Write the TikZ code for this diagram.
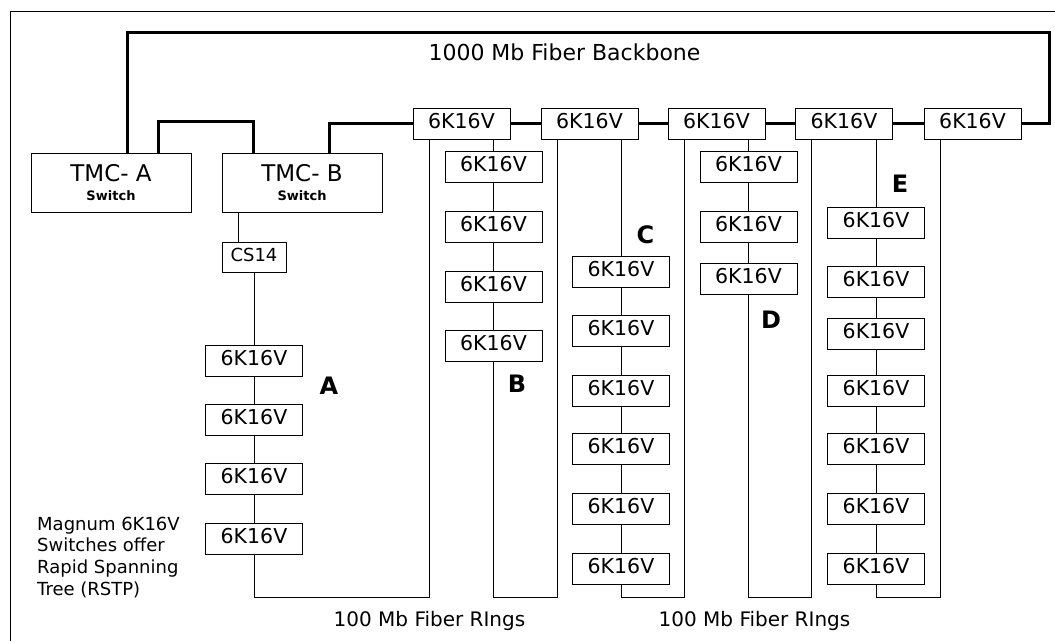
\documentclass[tikz,border=0pt]{standalone}
\usepackage{fontspec}
\setmainfont{DejaVu Sans}
\begin{document}
\begin{tikzpicture}[x=1pt,y=-1pt,
  sw/.style={draw, line width=1pt, minimum width=97pt, minimum height=31pt, inner sep=0pt, text height=15pt, text depth=6pt, font=\fontsize{20.5}{24}\selectfont},
  csbox/.style={draw, line width=1pt, minimum width=64pt, minimum height=30pt, inner sep=0pt, text height=13pt, text depth=5pt, font=\fontsize{18}{22}\selectfont},
  tmc/.style={draw, line width=1pt, minimum width=160pt, minimum height=59pt, inner sep=0pt, align=center, font=\fontsize{23}{19}\selectfont},
  small/.style={font=\fontsize{13}{15}\selectfont\bfseries},
  thin/.style={line width=1pt},
  heavy/.style={line width=3pt},
  lbl/.style={font=\fontsize{24}{28}\selectfont\bfseries, inner sep=0pt},
  captxt/.style={font=\fontsize{20}{24}\selectfont, inner sep=0pt, anchor=base},
  note/.style={font=\fontsize{18}{22}\selectfont, inner sep=0pt, anchor=base west}]
\useasboundingbox (0,0) rectangle (1055,641);
\fill[white] (0,0) rectangle (1055,641);
% frame
\draw[line width=1pt] (10,641) -- (10,11) -- (1055,11);

% core switches
\node[tmc] (tmca) at (111,182.5) {TMC- A\\{\fontsize{13}{15}\selectfont\bfseries Switch}};
\node[tmc] (tmcb) at (302,182.5) {TMC- B\\{\fontsize{13}{15}\selectfont\bfseries Switch}};
\node[csbox] (cs14) at (254,257) {CS14};

% top row
\node[sw] (t1) at (461.5,123.5) {6K16V};
\node[sw] (t2) at (589.5,123.5) {6K16V};
\node[sw] (t3) at (716.5,123.5) {6K16V};
\node[sw] (t4) at (844,123.5) {6K16V};
\node[sw] (t5) at (972.5,123.5) {6K16V};

% column A
\node[sw] (a1) at (254,361) {6K16V};
\node[sw] (a2) at (254,420) {6K16V};
\node[sw] (a3) at (254,479) {6K16V};
\node[sw] (a4) at (254,539) {6K16V};
% column B
\node[sw] (b1) at (493.5,167) {6K16V};
\node[sw] (b2) at (493.5,227) {6K16V};
\node[sw] (b3) at (493.5,287) {6K16V};
\node[sw] (b4) at (493.5,346) {6K16V};
% column C
\node[sw] (c1) at (621,272) {6K16V};
\node[sw] (c2) at (621,331) {6K16V};
\node[sw] (c3) at (621,391) {6K16V};
\node[sw] (c4) at (621,449) {6K16V};
\node[sw] (c5) at (621,509) {6K16V};
\node[sw] (c6) at (621,569) {6K16V};
% column D
\node[sw] (d1) at (748.5,167) {6K16V};
\node[sw] (d2) at (748.5,227) {6K16V};
\node[sw] (d3) at (748.5,279) {6K16V};
% column E
\node[sw] (e1) at (876,222.5) {6K16V};
\node[sw] (e2) at (876,282) {6K16V};
\node[sw] (e3) at (876,334) {6K16V};
\node[sw] (e4) at (876,391) {6K16V};
\node[sw] (e5) at (876,449) {6K16V};
\node[sw] (e6) at (876,509) {6K16V};
\node[sw] (e7) at (876,569) {6K16V};

% helper coordinates
\coordinate (bot) at (0,597);
\coordinate (bbtop) at (0,32);
\coordinate (bbr) at (1049,32);
\coordinate (l1) at ([xshift=-32.5pt]t1.south);
\coordinate (l2) at ([xshift=-32.5pt]t2.south);
\coordinate (l3) at ([xshift=-32.5pt]t3.south);
\coordinate (l4) at ([xshift=-32.5pt]t4.south);
\coordinate (l5) at ([xshift=-32.5pt]t5.south);
\coordinate (ta1) at ([xshift=16pt]tmca.north);
\coordinate (ta2) at ([xshift=47pt]tmca.north);
\coordinate (tb1) at ([xshift=-49pt]tmcb.north);
\coordinate (tb2) at ([xshift=27pt]tmcb.north);
\coordinate (tbs) at ([xshift=-16pt]cs14.north);

% backbone
\draw[heavy] (ta1) |- (bbr) |- (t5.east);
\draw[heavy] (ta2) -- ++(0,-31) -| (tb1);
\draw[heavy] (tb2) |- (t1.west);
\draw[heavy] (t1) -- (t2);
\draw[heavy] (t2) -- (t3);
\draw[heavy] (t3) -- (t4);
\draw[heavy] (t4) -- (t5);

% TMC-B to CS14
\draw[thin] (tbs |- tmcb.south) -- (tbs);

% ring A
\draw[thin] (cs14) -- (a1);
\draw[thin] (a1) -- (a2);
\draw[thin] (a2) -- (a3);
\draw[thin] (a3) -- (a4);
\draw[thin] (a4.south) |- (l1 |- bot) -- (l1);
% ring B
\draw[thin] (b1.north |- t1.south) -- (b1.north);
\draw[thin] (b1) -- (b2);
\draw[thin] (b2) -- (b3);
\draw[thin] (b3) -- (b4);
\draw[thin] (b4.south) |- (l2 |- bot) -- (l2);
% ring C
\draw[thin] (c1.north |- t2.south) -- (c1.north);
\draw[thin] (c1) -- (c2);
\draw[thin] (c2) -- (c3);
\draw[thin] (c3) -- (c4);
\draw[thin] (c4) -- (c5);
\draw[thin] (c5) -- (c6);
\draw[thin] (c6.south) |- (l3 |- bot) -- (l3);
% ring D
\draw[thin] (d1.north |- t3.south) -- (d1.north);
\draw[thin] (d1) -- (d2);
\draw[thin] (d2) -- (d3);
\draw[thin] (d3.south) |- (l4 |- bot) -- (l4);
% ring E
\draw[thin] (e1.north |- t4.south) -- (e1.north);
\draw[thin] (e1) -- (e2);
\draw[thin] (e2) -- (e3);
\draw[thin] (e3) -- (e4);
\draw[thin] (e4) -- (e5);
\draw[thin] (e5) -- (e6);
\draw[thin] (e6) -- (e7);
\draw[thin] (e7.south) |- (l5 |- bot) -- (l5);

% labels
\node[lbl] (la) at (329,386) {A};
\node[lbl] (lb) at (517,384) {B};
\node[lbl] (lc) at (645.5,235) {C};
\node[lbl] (ld) at (771,320) {D};
\node[lbl] (le) at (900,184) {E};

% captions
\node[captxt, font=\fontsize{22}{26}\selectfont] (bbtext) at (564.5,60) {1000 Mb Fiber Backbone};
\node[captxt] (ring1) at (429.5,626.5) {100 Mb Fiber RIngs};
\node[captxt] (ring2) at (754.5,626.5) {100 Mb Fiber RIngs};

\node[note] (m1) at (37,530) {Magnum 6K16V};
\node[note] (m2) at (37,551.7) {Switches offer};
\node[note] (m3) at (37,573.3) {Rapid Spanning};
\node[note] (m4) at (37,595) {Tree (RSTP)};
\end{tikzpicture}
\end{document}
